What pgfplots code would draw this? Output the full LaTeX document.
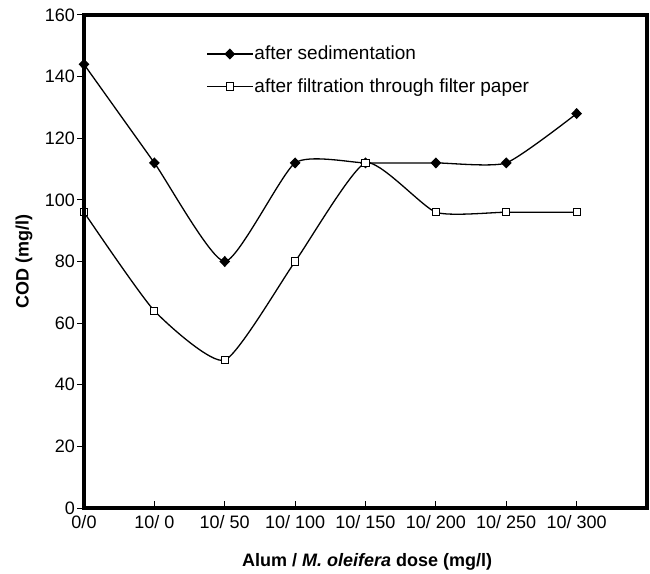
\documentclass[border=0pt]{standalone}
\usepackage{pgfplots}
\pgfplotsset{compat=1.18}
\usepackage{fontspec}
\setmainfont{Liberation Sans}
\begin{document}
\fontsize{18}{21}\selectfont
\begin{tikzpicture}
\begin{axis}[
  scale only axis, width=563pt, height=493pt,
  xmin=0, xmax=8, ymin=0, ymax=160,
  xtick={0,...,7},
  xticklabels={0/0,10/ 0,10/ 50,10/ 100,10/ 150,10/ 200,10/ 250,10/ 300},
  ytick={0,20,...,160},
  xtick pos=bottom, ytick pos=left,
  /pgf/number format/assume math mode=true,
  tick label style={font=\fontsize{18}{21}\selectfont, black},
  major tick length=7pt,
  tick style={line width=1pt, black},
  y tick style={xshift=-7pt},
  yticklabel style={xshift=-3pt},
  xticklabel style={yshift=-1pt},
  every axis y label/.style={at={(rel axis cs:-0.1066,0.5)}, rotate=90, anchor=center, font=\fontsize{18}{21}\selectfont\bfseries},
  every axis x label/.style={at={(rel axis cs:0.503,-0.1196)}, anchor=base, font=\fontsize{18}{21}\selectfont\bfseries},
  ylabel={COD (mg/l)},
  xlabel={Alum / \textit{M. oleifera} dose (mg/l)},
  legend style={at={(rel axis cs:0.2175,0.941)}, anchor=north west, draw=none, fill=none,
    font=\fontsize{19}{22}\selectfont, row sep=13pt, inner sep=0pt, nodes={inner sep=1.5pt}},
  legend cell align=left,
  legend image code/.code={\draw[mark repeat=2,mark phase=2,#1] plot coordinates {(0pt,0pt) (22.5pt,0pt) (45pt,0pt)};},
]
\coordinate (sw) at (rel axis cs:0,0);
\coordinate (ne) at (rel axis cs:1,1);
\addplot[black, line width=1.3pt, smooth, tension=0.333, mark=diamond*, mark size=4.6pt, mark options={solid, fill=black, xscale=1.3}]
  coordinates {(0,144) (1,112) (2,80) (3,112) (4,112) (5,112) (6,112) (7,128)};
\addlegendentry{after sedimentation}
\addplot[black, line width=1.3pt, smooth, tension=0.333, mark=square*, mark size=3.6pt, mark options={solid, fill=white, line width=1pt}]
  coordinates {(0,96) (1,64) (2,48) (3,80) (4,112) (5,96) (6,96) (7,96)};
\addlegendentry{after filtration through filter paper}
\end{axis}
\draw[line width=3.2pt, line join=miter] (sw) rectangle (ne);
\pgfresetboundingbox
\path[use as bounding box] ([shift={(-84pt,-65pt)}]sw) rectangle ([shift={(3pt,15pt)}]ne);
\end{tikzpicture}
\end{document}
